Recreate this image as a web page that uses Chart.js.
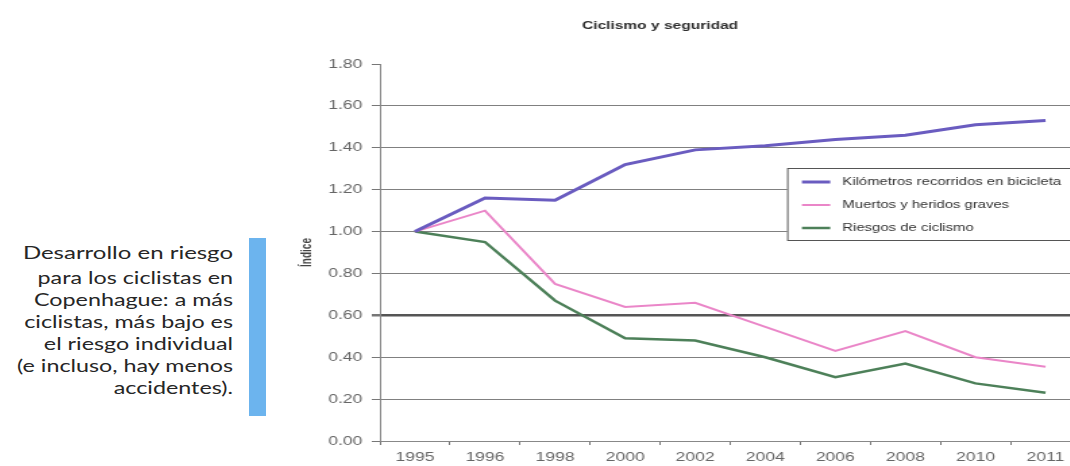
<!DOCTYPE html>
<html lang="es">
<head>
<meta charset="utf-8">
<title>Ciclismo y seguridad</title>
<script src="https://cdn.jsdelivr.net/npm/chart.js@4.4.1/dist/chart.umd.min.js"></script>
<style>
  html, body { margin: 0; padding: 0; background: #fff; width: 1070px; height: 466px; overflow: hidden; }
  #note {
    position: absolute; left: 0; top: 242px; width: 233px;
    text-align: right; font-family: Lato, "Open Sans", sans-serif;
    color: #262626; font-size: 17px; line-height: 22px;
    transform: scaleX(1.37); transform-origin: right top;
  }
  #note .lead { font-size: 17.5px; margin-bottom: 3px; }
  #bar { position: absolute; left: 249px; top: 238px; width: 17px; height: 178px; background: #6cb4ee; }
  /* the chart is drawn narrow and stretched sideways */
  #wrap { position: absolute; left: 280px; top: 0; width: 600px; height: 466px; transform: scaleX(1.35); transform-origin: 0 0; }
</style>
</head>
<body>
<div id="note">
  <div class="lead">Desarrollo en riesgo</div>
  para los ciclistas en<br>
  Copenhague: a más<br>
  ciclistas, más bajo es<br>
  el riesgo individual<br>
  (e incluso, hay menos<br>
  accidentes).
</div>
<div id="bar"></div>
<div id="wrap"><canvas id="chart"></canvas></div>

<script>
const TITLE = 'Ciclismo y seguridad';
const years = ['1995', '1996', '1998', '2000', '2002', '2004', '2006', '2008', '2010', '2011'];
const seriesNames = ['Kilómetros recorridos en bicicleta', 'Muertos y heridos graves', 'Riesgos de ciclismo'];
const kmBicicleta = [1.00, 1.16, 1.15, 1.32, 1.39, 1.41, 1.44, 1.46, 1.51, 1.53];
const muertosHeridos = [1.00, 1.10, 0.75, 0.64, 0.66, 0.545, 0.43, 0.525, 0.40, 0.355];
const riesgos = [1.00, 0.95, 0.67, 0.49, 0.48, 0.40, 0.305, 0.37, 0.275, 0.23];
const colors = ['#6a5cc0', '#ea86c8', '#4d8059'];
const widths = [3, 2, 2.5];

const FONT = '"Liberation Sans", Arial, sans-serif';

function isAt(v, target) { return Math.abs(v - target) < 1e-6; }

// title and the boxed legend inside the plot
const frame = {
  id: 'frame',
  afterDraw(chart) {
    const ctx = chart.ctx;
    const area = chart.chartArea;
    ctx.save();
    ctx.fillStyle = '#2e2e2e';
    ctx.font = 'bold 11.5px ' + FONT;
    ctx.textAlign = 'center';
    ctx.textBaseline = 'middle';
    ctx.fillText(TITLE, area.left + 207.5, 26);

    const bx = area.left + 301.6, by = 168, bw = 225, bh = 72;
    ctx.fillStyle = '#fff';
    ctx.fillRect(bx, by, bw, bh);
    ctx.strokeStyle = '#555';
    ctx.lineWidth = 1;
    ctx.strokeRect(bx + 0.5, by + 0.5, bw, bh);

    const rows = [14, 37, 60];
    ctx.font = '11px ' + FONT;
    ctx.textAlign = 'left';
    chart.data.datasets.forEach((ds, i) => {
      const y = by + rows[i];
      ctx.strokeStyle = ds.borderColor;
      ctx.lineWidth = ds.borderWidth;
      ctx.beginPath();
      ctx.moveTo(bx + 11, y);
      ctx.lineTo(bx + 32, y);
      ctx.stroke();
      ctx.fillStyle = '#333';
      ctx.fillText(ds.label, bx + 41, y);
    });
    ctx.restore();
  }
};

const series = [kmBicicleta, muertosHeridos, riesgos];

new Chart(document.getElementById('chart'), {
  type: 'line',
  data: {
    labels: years,
    datasets: series.map((vals, i) => ({
      label: seriesNames[i],
      data: vals,
      borderColor: colors[i],
      backgroundColor: colors[i],
      borderWidth: widths[i],
      pointRadius: 0,
      tension: 0,
      fill: false
    }))
  },
  options: {
    responsive: true,
    maintainAspectRatio: false,
    animation: false,
    layout: { padding: { left: 10, right: 7, top: 64, bottom: 0 } },
    plugins: {
      legend: { display: false },
      title: { display: false },
      tooltip: { enabled: false }
    },
    scales: {
      x: {
        offset: true,
        ticks: { color: '#666', font: { family: FONT, size: 13 }, padding: 5, maxRotation: 0, autoSkip: false },
        grid: { offset: true, drawOnChartArea: false, tickLength: 4, tickColor: '#777' },
        border: { color: '#888', width: 1 },
        afterFit(scale) { scale.height = 25; }
      },
      y: {
        min: 0,
        max: 1.8,
        ticks: {
          stepSize: 0.2,
          color: '#666',
          font: { family: FONT, size: 13 },
          padding: 7,
          callback: v => v.toFixed(2)
        },
        grid: {
          color: c => isAt(c.tick.value, 1.8) ? 'rgba(0,0,0,0)' : (isAt(c.tick.value, 0.6) ? '#555' : '#808080'),
          lineWidth: c => isAt(c.tick.value, 0.6) ? 2.5 : 1,
          tickColor: '#777',
          tickLength: 6
        },
        border: { color: '#888', width: 1 },
        title: {
          display: true,
          text: 'Índice',
          color: '#444',
          font: { family: FONT, size: 10, weight: 'bold' },
          padding: { top: 4, bottom: 0 }
        },
        afterFit(scale) { scale.width = 64; }
      }
    }
  },
  plugins: [frame]
});
</script>
</body>
</html>
